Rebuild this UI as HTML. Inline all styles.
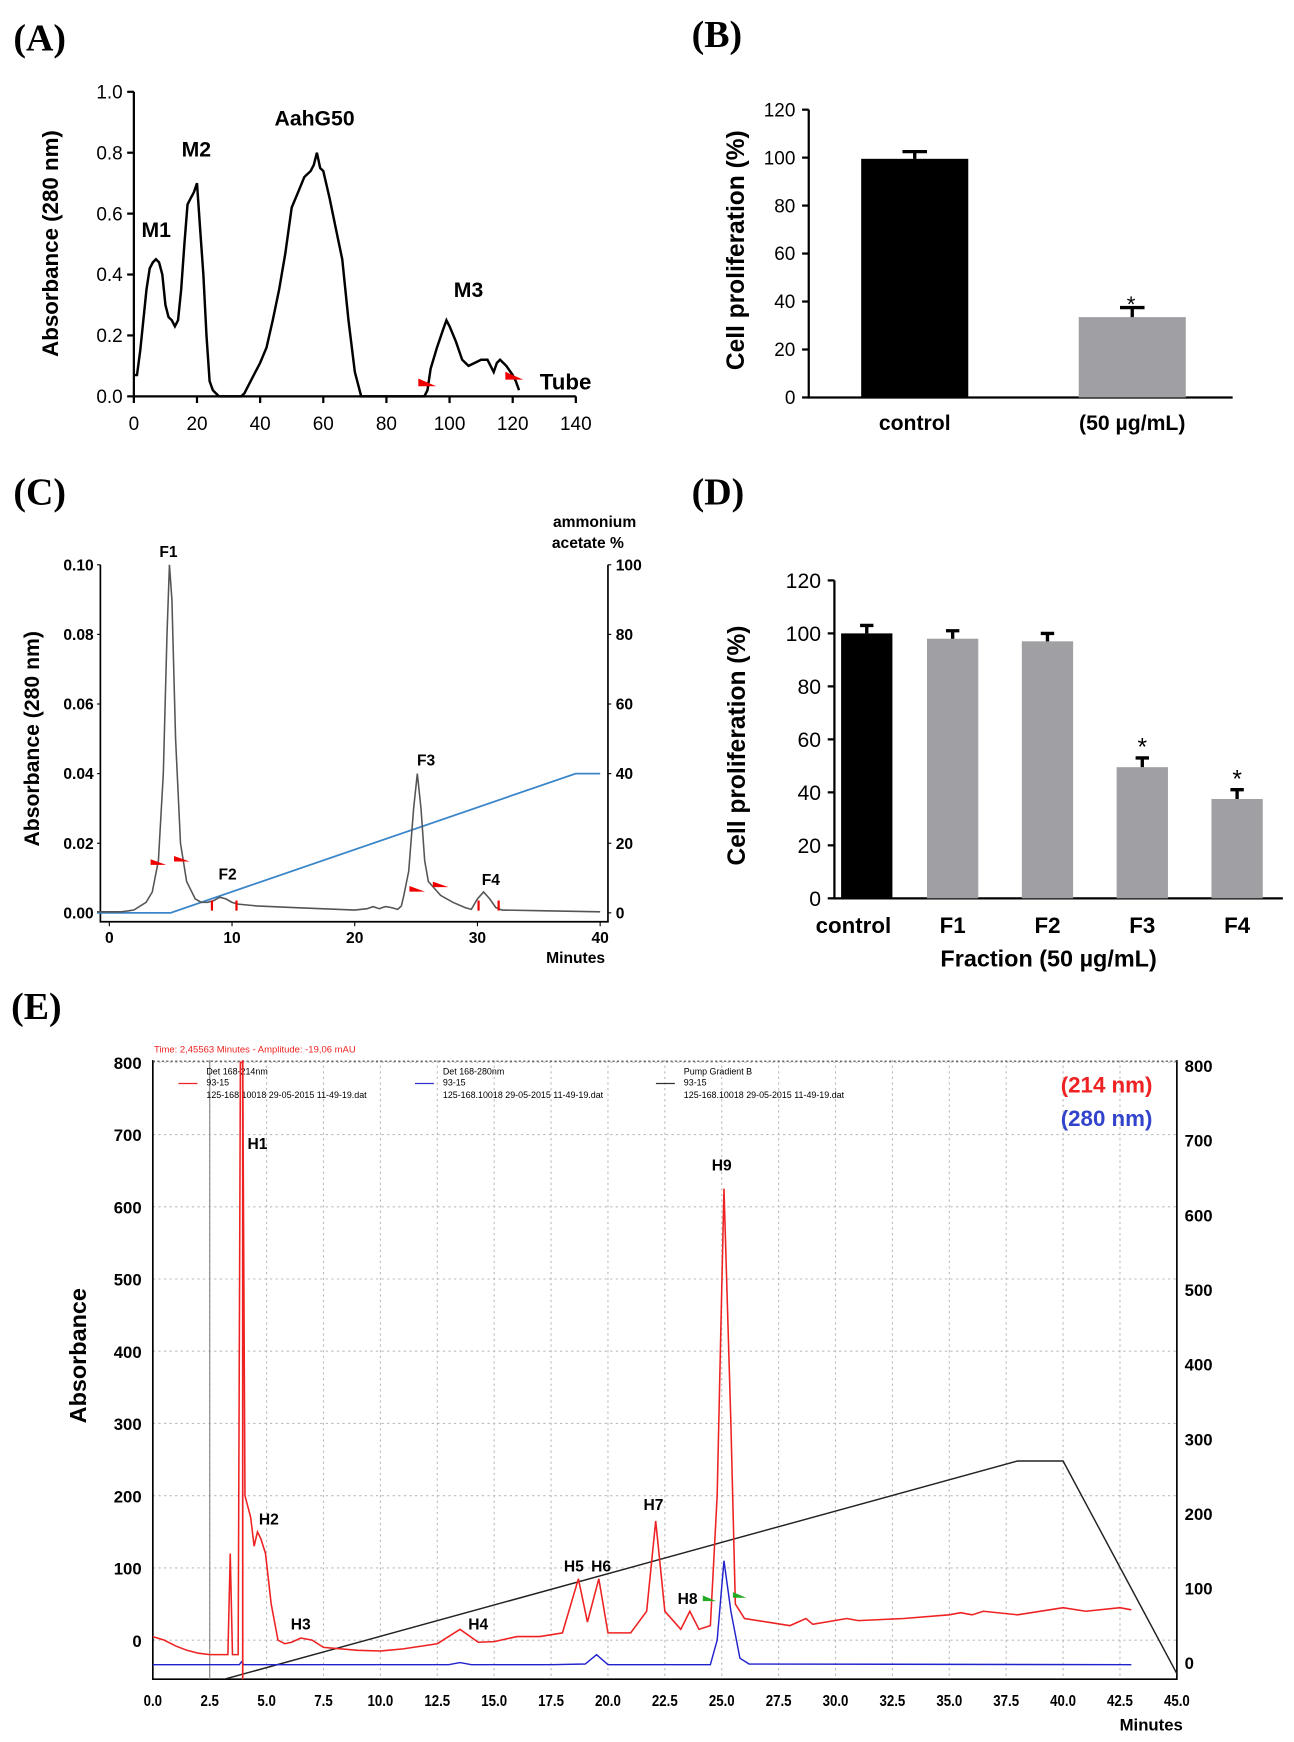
<!DOCTYPE html>
<html><head><meta charset="utf-8"><style>
html,body{margin:0;padding:0;background:#fff;}
svg{display:block;font-family:"Liberation Sans",Arial,sans-serif;}
</style></head><body>
<svg id="fig" width="1294" height="1742" viewBox="0 0 1160 1561" xmlns="http://www.w3.org/2000/svg"></svg>
<script>
// ---------- Panel A data ----------
const aTubes=[0,1,2,3,4,5,6,7,8,9,10,11,12,13,14,15,16,17,18,19,20,21,22,23,24,25,26,27,34,35,36,38,40,42,44,46,48,50,52,54,56,57,58,59,60,62,64,66,68,70,72,92,93,94,96,98,99,100,102,104,106,108,110,112,113,114,115,116,118,120,121,122];
const aAbs=[0.07,0.07,0.15,0.25,0.35,0.42,0.44,0.45,0.44,0.40,0.30,0.26,0.25,0.23,0.25,0.35,0.50,0.63,0.65,0.67,0.70,0.55,0.40,0.20,0.05,0.02,0.01,0,0,0.01,0.03,0.07,0.11,0.16,0.25,0.35,0.47,0.62,0.67,0.72,0.74,0.76,0.80,0.75,0.74,0.65,0.55,0.45,0.25,0.08,0,0,0.02,0.09,0.16,0.22,0.25,0.23,0.18,0.12,0.10,0.11,0.12,0.12,0.10,0.08,0.11,0.12,0.10,0.07,0.05,0.02];
const aXTicks=[0,20,40,60,80,100,120,140];
const aYTicks=[0,0.2,0.4,0.6,0.8,1.0];
// ---------- Panel B data ----------
const bCats=["control","(50 µg/mL)"];
const bVals=[99.5,33.5];
const bErr=[3,4];
const bYTicks=[0,20,40,60,80,100,120];
// ---------- Panel C data ----------
const cTimes=[-1,1,2,3,3.5,4,4.4,4.7,4.9,5.1,5.4,5.8,6.3,7,7.5,8,8.5,9,9.5,10,10.5,12,15,20,21,21.5,22,22.5,23,23.5,23.8,24,24.4,24.8,25.1,25.4,25.7,26,26.5,27,28,29,29.5,30,30.5,31,31.5,32,35,40];
const cAbs=[0.0003,0.0003,0.0008,0.003,0.006,0.015,0.04,0.08,0.1,0.09,0.05,0.02,0.009,0.004,0.003,0.003,0.0035,0.0045,0.004,0.003,0.0025,0.002,0.0015,0.0008,0.0012,0.0018,0.0012,0.0018,0.0015,0.001,0.002,0.005,0.012,0.03,0.04,0.03,0.015,0.009,0.007,0.005,0.003,0.0015,0.001,0.004,0.006,0.004,0.0015,0.0008,0.0006,0.0003];
const cGradT=[-1,5,38,40];
const cGradV=[0,0,40,40];
const cXTicks=[0,10,20,30,40];
const cYTicks=[0,0.02,0.04,0.06,0.08,0.10];
const cRTicks=[0,20,40,60,80,100];
// ---------- Panel D data ----------
const dCats=["control","F1","F2","F3","F4"];
const dVals=[100,98,97,49.5,37.5];
const dErr=[3,3,3,3.5,3.5];
const dYTicks=[0,20,40,60,80,100,120];
// ---------- Panel E data ----------
const eRedT=[0,0.5,1,1.5,2,2.5,3.3,3.4,3.5,3.6,3.75,3.85,3.95,4.05,4.3,4.45,4.6,4.75,4.95,5.2,5.5,5.8,6.1,6.5,7,7.5,9,10,11,12.5,13.5,14.3,15,16,17,18,18.7,19.1,19.6,20,21,21.7,22.1,22.5,23.2,23.6,24,24.5,24.8,25.1,25.4,25.6,26,27,28,28.7,29,30.5,31,33,35,35.5,36,36.5,38,40,41,42.5,43];
const eRedV=[5,0,-8,-14,-18,-20,-20,120,-20,-20,-20,800,800,200,170,130,150,140,120,50,0,-5,-3,3,0,-10,-14,-15,-12,-5,15,-3,-2,5,5,10,85,25,85,10,10,40,165,40,15,40,15,20,200,625,300,50,30,25,20,30,22,30,27,30,35,38,35,40,35,45,40,45,42];
const eBlueT=[0,3.8,3.9,4,13,13.5,14,17.5,19,19.5,20,24.5,24.8,25.1,25.4,25.8,26.2,43];
const eBlueV=[-34,-34,-30,-34,-34,-31,-34,-34,-33,-20,-34,-34,0,110,40,-25,-33,-34];
const eGradT=[3.2,38,40,45];
const eGradV=[-22,270,270,-15];
const eXTicks=[0,2.5,5,7.5,10,12.5,15,17.5,20,22.5,25,27.5,30,32.5,35,37.5,40,42.5,45];
const eYTicks=[0,100,200,300,400,500,600,700,800];
const ePeakLbl=["H1","H2","H3","H4","H5","H6","H7","H8","H9"];
const ePeakT=[4.6,5.1,6.5,14.3,18.5,19.7,22.0,23.5,25.0];
const ePeakV=[680,160,15,15,95,95,180,50,650];

const NS="http://www.w3.org/2000/svg";
const svg=document.getElementById('fig');
function mk(tag,attrs,parent){const e=document.createElementNS(NS,tag);for(const k in attrs)e.setAttribute(k,attrs[k]);(parent||svg).appendChild(e);return e;}
function txt(x,y,s,size,extra,parent){const e=mk('text',Object.assign({x:x,y:y,'font-size':size},extra||{}),parent);e.textContent=s;return e;}
function poly(xs,ys,fx,fy){return xs.map((v,i)=>(i?'L':'M')+fx(v).toFixed(1)+','+fy(ys[i]).toFixed(1)).join('');}

// ================= Panel A =================
(function(){
const g=mk('g',{});


const X=v=>120+v*2.83, Y=v=>355-v*273;
let t=txt(12,45,'(A)',34,{'font-family':'Liberation Serif,serif','font-weight':'bold'},g);

let ax=mk('path',{d:`M${X(0)},${Y(1)}V${Y(0)}H${X(140)}`,stroke:'#000','stroke-width':2,fill:'none'},g);

aYTicks.forEach(v=>{mk('line',{x1:X(0)-6,x2:X(0),y1:Y(v),y2:Y(v),stroke:'#000','stroke-width':2},g);
 const l=txt(X(0)-10,Y(v)+6,v.toFixed(1),17,{'text-anchor':'end'},g);
 });
aXTicks.forEach(v=>{mk('line',{x1:X(v),x2:X(v),y1:Y(0),y2:Y(0)+6,stroke:'#000','stroke-width':2},g);
 const l=txt(X(v),Y(0)+30,String(v),17,{'text-anchor':'middle'},g);
 });
let yt=txt(0,0,'Absorbance (280 nm)',20,{'font-weight':'bold','text-anchor':'middle',transform:`translate(52,218) rotate(-90)`},g);

let c=mk('path',{d:poly(aTubes,aAbs,X,Y),stroke:'#000','stroke-width':2.2,fill:'none'},g);

[['M1',140,212],['M2',176,140],['AahG50',282,112],['M3',420,266],['Tube',507,349]].forEach(p=>{
 const l=txt(p[1],p[2],p[0],p[0]=='Tube'?20:19,{'font-weight':'bold','text-anchor':'middle'},g);
 });
[[375,343],[453,337]].forEach(p=>{const m=mk('path',{d:`M${p[0]},${p[1]-4}L${p[0]+16},${p[1]+3}L${p[0]},${p[1]+3}Z`,fill:'#e00'},g);
 });
})();

// ================= Panel B =================
(function(){
const g=mk('g',{});


const Y=v=>356-v*2.15;
let t=txt(620,42,'(B)',34,{'font-family':'Liberation Serif,serif','font-weight':'bold'},g);

let ax=mk('path',{d:`M725,${Y(120)}V${Y(0)}H1105`,stroke:'#000','stroke-width':2,fill:'none'},g);

bYTicks.forEach(v=>{mk('line',{x1:719,x2:725,y1:Y(v),y2:Y(v),stroke:'#000','stroke-width':2},g);
 const l=txt(713,Y(v)+6,String(v),17,{'text-anchor':'end'},g);
 });
const cx=[820,1015];
bVals.forEach((v,i)=>{
 const b=mk('rect',{x:cx[i]-48,y:Y(v),width:96,height:Y(0)-Y(v),fill:i?'#a0a0a4':'#000'},g);
 
 const e=mk('path',{d:`M${cx[i]},${Y(v)}V${Y(v+bErr[i])}M${cx[i]-11},${Y(v+bErr[i])}H${cx[i]+11}`,stroke:'#000','stroke-width':3},g);
 
 const l=txt(cx[i],385,bCats[i],19,{'text-anchor':'middle','font-weight':'bold'},g);
 });
let s=txt(1014,Y(bVals[1]+bErr[1])+4,'*',20,{'text-anchor':'middle'},g);

let yt=txt(0,0,'Cell proliferation (%)',22,{'font-weight':'bold','text-anchor':'middle',transform:`translate(667,224) rotate(-90)`},g);

})();

// ================= Panel C =================
(function(){
const g=mk('g',{});


const X=v=>98+v*11.0, Y=v=>818-v*3120, R=v=>818-v*3.12;
let t=txt(12,452,'(C)',34,{'font-family':'Liberation Serif,serif','font-weight':'bold'},g);

let ax=mk('path',{d:`M90,506V826H545V506`,stroke:'#000','stroke-width':1.5,fill:'none'},g);

cYTicks.forEach(v=>{mk('line',{x1:87,x2:90,y1:Y(v),y2:Y(v),stroke:'#000'},g);
 const l=txt(84,Y(v)+5,v.toFixed(2),14,{'text-anchor':'end','font-weight':'bold'},g);
 });
cRTicks.forEach(v=>{mk('line',{x1:545,x2:548,y1:R(v),y2:R(v),stroke:'#000'},g);
 const l=txt(552,R(v)+5,String(v),14,{'font-weight':'bold'},g);
 });
cXTicks.forEach(v=>{mk('line',{x1:X(v),x2:X(v),y1:826,y2:830,stroke:'#000'},g);
 const l=txt(X(v),845,String(v),14,{'text-anchor':'middle','font-weight':'bold'},g);
 });
let xt=txt(516,863,'Minutes',14,{'text-anchor':'middle','font-weight':'bold'},g);

let rt=txt(533,472,'ammonium',14,{'text-anchor':'middle','font-weight':'bold'},g);

let rt2=txt(527,491,'acetate %',14,{'text-anchor':'middle','font-weight':'bold'},g);

let yt=txt(0,0,'Absorbance (280 nm)',19,{'font-weight':'bold','text-anchor':'middle',transform:`translate(35,662) rotate(-90)`},g);

let gr=mk('path',{d:poly(cGradT,cGradV,X,R),stroke:'#3a86c8','stroke-width':1.6,fill:'none'},g);

let c=mk('path',{d:poly(cTimes,cAbs,X,Y),stroke:'#555','stroke-width':1.4,fill:'none'},g);

[['F1',151,499],['F2',204,788],['F3',382,686],['F4',440,793]].forEach(p=>{
 const l=txt(p[1],p[2],p[0],14,{'font-weight':'bold','text-anchor':'middle'},g);
 });
[[135,773],[156,770],[367,797],[388,793]].forEach(p=>{const m=mk('path',{d:`M${p[0]},${p[1]-3}L${p[0]+14},${p[1]+2}L${p[0]},${p[1]+2}Z`,fill:'#e00'},g);
 });
[190,212,429,447].forEach(x=>{const m=mk('line',{x1:x,x2:x,y1:807,y2:816,stroke:'#e00','stroke-width':2},g);
 });
})();

// ================= Panel D =================
(function(){
const g=mk('g',{});


const Y=v=>805-v*2.375;
let t=txt(620,452,'(D)',34,{'font-family':'Liberation Serif,serif','font-weight':'bold'},g);

let ax=mk('path',{d:`M748,${Y(120)}V${Y(0)}H1150`,stroke:'#000','stroke-width':2,fill:'none'},g);

dYTicks.forEach(v=>{mk('line',{x1:742,x2:748,y1:Y(v),y2:Y(v),stroke:'#000','stroke-width':2},g);
 const l=txt(736,Y(v)+7,String(v),19,{'text-anchor':'end'},g);
 });
const cx=[777,854,939,1024,1109], w=[46,46,46,46,46];
dVals.forEach((v,i)=>{
 const b=mk('rect',{x:cx[i]-w[i]/2,y:Y(v),width:w[i],height:Y(0)-Y(v),fill:i?'#a0a0a4':'#000'},g);
 
 const e=mk('path',{d:`M${cx[i]},${Y(v)}V${Y(v+dErr[i])}M${cx[i]-6},${Y(v+dErr[i])}H${cx[i]+6}`,stroke:'#000','stroke-width':3},g);
 
 const l=txt(i?cx[i]:765,836,dCats[i],20,{'text-anchor':'middle','font-weight':'bold'},g);
 });
[3,4].forEach(i=>{const s=txt(cx[i],Y(dVals[i]+dErr[i])-2,'*',22,{'text-anchor':'middle'},g);
 });
let xt=txt(940,866,'Fraction (50 µg/mL)',21,{'text-anchor':'middle','font-weight':'bold'},g);

let yt=txt(0,0,'Cell proliferation (%)',22,{'font-weight':'bold','text-anchor':'middle',transform:`translate(668,668) rotate(-90)`},g);

})();

// ================= Panel E =================
(function(){
const g=mk('g',{});


const X=v=>137+v*20.4, Y=v=>1470-v*0.6475, R=v=>1490-v*0.669;
let t=txt(10,913,'(E)',34,{'font-family':'Liberation Serif,serif','font-weight':'bold'},g);

eXTicks.forEach(v=>{const l=mk('line',{x1:X(v),x2:X(v),y1:950,y2:1505,stroke:'#bbb','stroke-dasharray':'2,3'},g);
 
 const tl=txt(X(v),1529,v.toFixed(1),14,{'text-anchor':'middle','font-weight':'bold','transform':`translate(${X(v)},0) scale(0.85,1) translate(${-X(v)},0)`},g);
 });
eYTicks.forEach(v=>{const l=mk('line',{x1:137,x2:1055,y1:Y(v),y2:Y(v),stroke:'#bbb','stroke-dasharray':'2,3'},g);
 
 const tl=txt(127,Y(v)+6,String(v),15,{'text-anchor':'end','font-weight':'bold'},g);
 
 const rl=txt(1062,R(v)+6,String(v),15,{'font-weight':'bold'},g);
 });
let ax=mk('path',{d:`M137,950V1505H1055V950`,stroke:'#000','stroke-width':1.5,fill:'none'},g);

let top=mk('line',{x1:137,x2:1055,y1:951,y2:951,stroke:'#444','stroke-dasharray':'2,2'},g);

let vl=mk('line',{x1:X(2.5),x2:X(2.5),y1:950,y2:1505,stroke:'#888'},g);

let yt=txt(0,0,'Absorbance',21,{'font-weight':'bold','text-anchor':'middle',transform:`translate(77,1215) rotate(-90)`},g);

let xt=txt(1032,1551,'Minutes',15,{'text-anchor':'middle','font-weight':'bold'},g);

let tm=txt(138,943,'Time:  2,45563 Minutes  -  Amplitude:  -19,06 mAU',8.5,{fill:'#e22'},g);

[[160,'#e22','Det 168-214nm'],[372,'#33c','Det 168-280nm'],[588,'#333','Pump Gradient B']].forEach(L=>{
 const lg=mk('g',{},g);
 
 mk('line',{x1:L[0],x2:L[0]+17,y1:971,y2:971,stroke:L[1],'stroke-width':1.2},lg);
 txt(L[0]+25,963,L[2],8,{},lg);txt(L[0]+25,973,'93-15',8,{},lg);
 txt(L[0]+25,984,'125-168.10018 29-05-2015 11-49-19.dat',8,{},lg);});
let r1=txt(992,979,'(214 nm)',20,{fill:'#e22','font-weight':'bold','text-anchor':'middle'},g);

let r2=txt(992,1009,'(280 nm)',20,{fill:'#3344cc','font-weight':'bold','text-anchor':'middle'},g);

const clip=mk('clipPath',{id:'eclip'},g);mk('rect',{x:137,y:950,width:918,height:555},clip);
let gr=mk('path',{d:poly(eGradT,eGradV,X,R),stroke:'#222','stroke-width':1.3,fill:'none','clip-path':'url(#eclip)'},g);

let bl=mk('path',{d:poly(eBlueT,eBlueV,X,Y),stroke:'#22c','stroke-width':1.3,fill:'none'},g);

let rd=mk('path',{d:poly(eRedT,eRedV,X,Y),stroke:'#e22','stroke-width':1.4,fill:'none','clip-path':'url(#eclip)'},g);

let rv=mk('line',{x1:X(3.95),x2:X(3.95),y1:950,y2:1505,stroke:'#e22','stroke-width':1.5},g);

ePeakLbl.forEach((s,i)=>{const l=txt(X(ePeakT[i]),Y(ePeakV[i]),s,14,{'text-anchor':'middle','font-weight':'bold'},g);
 });
[[630,1433],[657,1430]].forEach(p=>{const m=mk('path',{d:`M${p[0]},${p[1]-3}L${p[0]+12},${p[1]+2}L${p[0]},${p[1]+2}Z`,fill:'#2a2'},g);
 });
})();
</script>
</body></html>
